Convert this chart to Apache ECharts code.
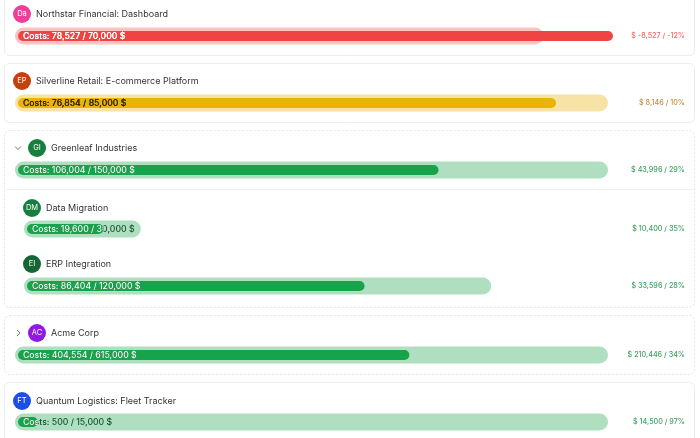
<!DOCTYPE html>
<html><head><meta charset="utf-8">
<script src="https://cdn.jsdelivr.net/npm/echarts@6/dist/echarts.min.js"></script>
<style>html,body{margin:0;padding:0;background:#fff}#c{width:700px;height:438px}</style>
</head><body><div id="c"></div>
<script>
// ---- data ----
const names = ['Northstar Financial: Dashboard', 'Silverline Retail: E-commerce Platform', 'Greenleaf Industries', 'Data Migration', 'ERP Integration', 'Acme Corp', 'Quantum Logistics: Fleet Tracker'];
const initials = ['Da', 'EP', 'GI', 'DM', 'EI', 'AC', 'FT'];
const costs = [78527, 76854, 106004, 19600, 86404, 404554, 500];
const budgets = [70000, 85000, 150000, 30000, 120000, 615000, 15000];
const levels = [0, 0, 0, 1, 1, 0, 0];
const expander = ['', '', 'open', '', '', 'closed', ''];

// ---- layout / style (not data) ----
const avatarColors = ['#ef3f9c', '#c2410c', '#15803d', '#15803d', '#166534', '#9119e0', '#1c4fe6'];
const barY = [36, 103, 170, 229, 286, 355, 422];
const headY = [14, 81, 148, 208, 264, 333, 401];
const cards = [
  {y: -10, h: 65, dash: false},
  {y: 63, h: 59, dash: false},
  {y: 130, h: 177, dash: true},
  {y: 315, h: 59, dash: true},
  {y: 382, h: 80, dash: false}
];
const FONT = 'Inter, "Noto Sans", sans-serif';
const fmt = v => v.toLocaleString('en-US');

const palette = {
  red: {bar: '#ef4444', track: '#fbc2c2', inText: '#ffffff', outText: '#ffffff', side: '#f06b6b'},
  yellow: {bar: '#eab308', track: '#f8e3a6', inText: '#3b2a00', outText: '#3b2a00', side: '#c38f45'},
  green: {bar: '#16a34a', track: '#afdfc0', inText: '#ffffff', outText: '#14532d', side: '#3ea265'}
};

const grids = [], xAxes = [], yAxes = [], series = [], graphics = [];

cards.forEach(c => {
  graphics.push({type: 'rect', shape: {x: 4.5, y: c.y + 0.5, width: 690, height: c.h, r: 5},
    style: {fill: '#fff', stroke: c.dash ? '#e6e6e6' : '#ececec', lineWidth: 1, lineDash: c.dash ? [2, 2] : null}, z: -10});
});
graphics.push({type: 'line', shape: {x1: 5, y1: 189.5, x2: 694, y2: 189.5}, style: {stroke: '#f1f1f1', lineWidth: 1}, z: -9});

let parentBudget = null;
names.forEach((name, i) => {
  const lvl = levels[i];
  if (lvl === 0) parentBudget = budgets[i];
  const max = lvl === 0 ? Math.max(costs[i], budgets[i]) : parentBudget;
  const remaining = budgets[i] - costs[i];
  const pct = Math.round(remaining / budgets[i] * 100);
  const st = remaining < 0 ? palette.red : (pct <= 10 ? palette.yellow : palette.green);

  const left = lvl === 0 ? 15 : 24;
  const width = lvl === 0 ? 593 : 584;
  const g = grids.length;
  // track grid, and inset grid for the cost bar
  grids.push({left: left, width: width, top: barY[i] - 9, height: 18});
  grids.push({left: left + 3, width: width + 2, top: barY[i] - 9, height: 18});
  xAxes.push({gridIndex: g, type: 'value', min: 0, max: max, show: false});
  xAxes.push({gridIndex: g + 1, type: 'value', min: 0, max: max, show: false});
  yAxes.push({gridIndex: g, type: 'category', data: [name], show: false});
  yAxes.push({gridIndex: g + 1, type: 'category', data: [name], show: false});

  series.push({type: 'bar', xAxisIndex: g, yAxisIndex: g, data: [budgets[i]], barWidth: 17,
    itemStyle: {color: st.track, borderRadius: 8.5}, silent: true, z: 1, animation: false});
  series.push({type: 'bar', xAxisIndex: g + 1, yAxisIndex: g + 1, data: [costs[i]], barWidth: 10,
    itemStyle: {color: st.bar, borderRadius: 5}, silent: true, z: 2, animation: false});

  const txt = 'Costs: ' + fmt(costs[i]) + ' / ' + fmt(budgets[i]) + ' $';
  series.push({type: 'custom', xAxisIndex: g + 1, yAxisIndex: g + 1, data: [[costs[i], 0]], encode: {x: 0, y: 1}, z: 3, silent: true, animation: false,
    renderItem: function (params, api) {
      const p0 = api.coord([0, 0]);
      const p1 = api.coord([api.value(0), 0]);
      const y = p0[1];
      const tx = p0[0] + 5;
      const font = {fontSize: 8.7, fontWeight: 500, fontFamily: FONT};
      return {type: 'group', children: [
        {type: 'text', style: Object.assign({x: tx, y: y, text: txt, fill: st.outText, verticalAlign: 'middle'}, font)},
        {type: 'text', style: Object.assign({x: tx, y: y, text: txt, fill: st.inText, verticalAlign: 'middle'}, font),
          clipPath: {type: 'rect', shape: {x: p0[0] - 3, y: y - 10, width: p1[0] - p0[0] + 3, height: 20}}}
      ]};
    }});

  // side text
  graphics.push({type: 'text', x: 685, y: barY[i], style: {text: '$ ' + fmt(remaining) + ' / ' + pct + '%', fill: st.side,
    fontSize: 7.2, fontWeight: 500, fontFamily: FONT, textAlign: 'right', textVerticalAlign: 'middle'}});

  // header
  const ex = expander[i] ? 15 : 0;
  const ax = (lvl === 0 ? 22 : 32) + ex;
  graphics.push({type: 'circle', shape: {cx: ax, cy: headY[i], r: 9}, style: {fill: avatarColors[i]}});
  graphics.push({type: 'text', x: ax, y: headY[i], style: {text: initials[i], fill: '#fff', fontSize: 7.5, fontFamily: FONT,
    textAlign: 'center', textVerticalAlign: 'middle'}});
  graphics.push({type: 'text', x: ax + 14, y: headY[i], style: {text: name, fill: '#333', fontSize: 9, fontFamily: FONT,
    textVerticalAlign: 'middle'}});
  if (expander[i] === 'open') {
    graphics.push({type: 'polyline', shape: {points: [[15, headY[i] - 1.5], [18, headY[i] + 1.5], [21, headY[i] - 1.5]]},
      style: {stroke: '#777', lineWidth: 1, fill: null}});
  } else if (expander[i] === 'closed') {
    graphics.push({type: 'polyline', shape: {points: [[17, headY[i] - 3], [20, headY[i]], [17, headY[i] + 3]]},
      style: {stroke: '#777', lineWidth: 1, fill: null}});
  }
});

const chart = echarts.init(document.getElementById('c'));
chart.setOption({animation: false, grid: grids, xAxis: xAxes, yAxis: yAxes, series: series, graphic: {elements: graphics}});
</script></body></html>
